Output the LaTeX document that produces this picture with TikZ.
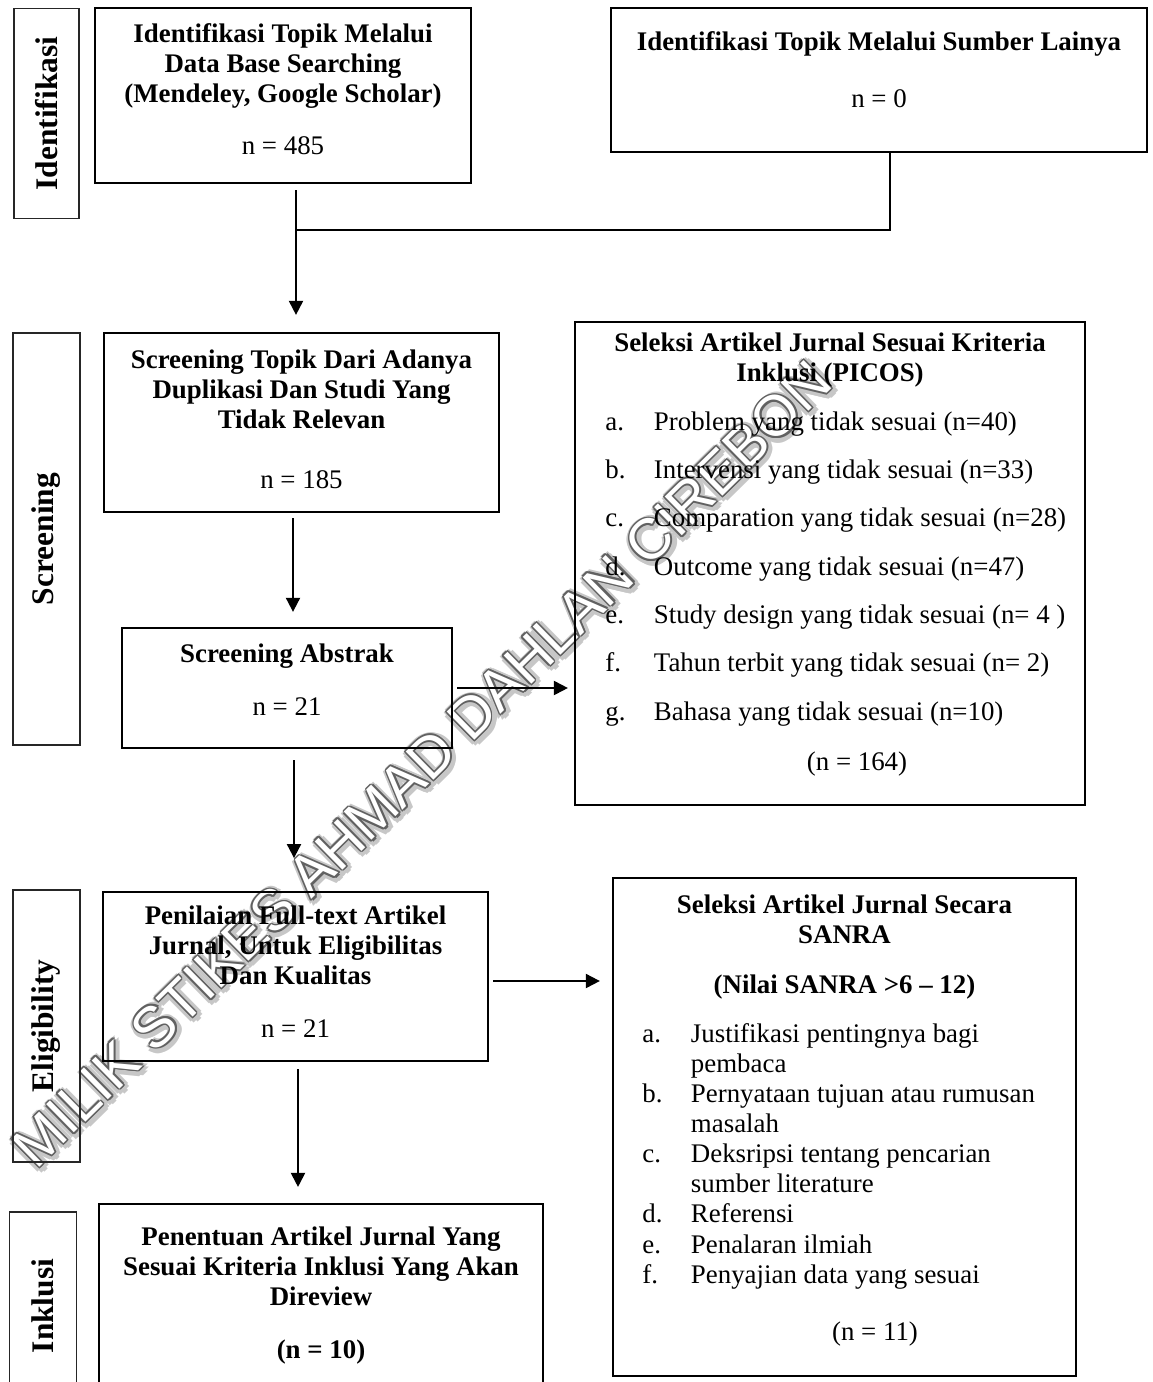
\documentclass[tikz,border=0pt]{standalone}
\usepackage{fontspec}
\setmainfont{Liberation Serif}
\newfontfamily\wmfont{Liberation Sans}
\usetikzlibrary{arrows.meta}
\newcommand{\itm}[1]{\makebox[22.4pt][l]{#1}}
\tikzset{block/.style = {draw, line width=0.9pt, rectangle, inner sep=0pt},
         lbl/.style = {draw=black!85, line width=0.5pt, rectangle, rotate=90, inner sep=0pt, font=\fontsize{14.5pt}{16pt}\selectfont\bfseries},
         txt/.style = {anchor=base, align=center, inner sep=0pt, font=\fontsize{12.4pt}{13.85pt}\selectfont},
         lst/.style = {anchor=base west, align=left, inner sep=0pt, font=\fontsize{12.4pt}{13.85pt}\selectfont},
         wm/.style = {anchor=base, inner sep=0pt, font=\wmfont\fontsize{26.5pt}{30pt}\selectfont},
         link/.style = {line width=0.6pt},
         arr/.style = {line width=0.9pt, -{Triangle[length=6.5pt,width=6.5pt]}}}

\begin{document}
\begin{tikzpicture}[x=0.4615pt, y={(0pt,-0.4615pt)}]
    \clip (0,0) rectangle (1153,1382);
    % watermark
    \foreach \a in {0,45,...,315}
        \node[wm, text=black!22, shift={(\a:2.2pt)}, shift={(0.7pt,-0.7pt)}, rotate=44.5] (wmS\a) at (436,778) {MILIK STIKES AHMAD DAHLAN CIREBON};
    \foreach \a in {0,45,...,315}
        \node[wm, text=black!62, shift={(\a:0.8pt)}, rotate=44.5] (wmO\a) at (436,778) {MILIK STIKES AHMAD DAHLAN CIREBON};
    \node[wm, text=white, rotate=44.5] (wm) at (436,778) {MILIK STIKES AHMAD DAHLAN CIREBON};

    % stage labels
    \node[lbl, minimum width=96.5pt, minimum height=30pt] (lId) at (46.5,113.5) {Identifikasi};
    \node[lbl, minimum width=190.1pt, minimum height=30.9pt] (lScr) at (46.5,539) {Screening};
    \node[lbl, minimum width=125.5pt, minimum height=30.9pt] (lElig) at (46.5,1026) {Eligibility};
    \node[lbl, minimum width=86.8pt, minimum height=30.5pt] (lIncl) at (43,1306) {Inklusi};

    % boxes
    \node[block, minimum width=173.5pt, minimum height=80.8pt] (bDb) at (283,95.5) {};
    \node[block, minimum width=247.4pt, minimum height=66.5pt] (bOther) at (879,80) {};
    \node[block, minimum width=182.3pt, minimum height=82.6pt] (bScr) at (301.5,422.5) {};
    \node[block, minimum width=152.3pt, minimum height=55.4pt] (bAbs) at (287,688) {};
    \node[block, minimum width=235.4pt, minimum height=222.9pt] (bPicos) at (830,563.5) {};
    \node[block, minimum width=177.7pt, minimum height=78pt] (bFull) at (295.5,976.5) {};
    \node[block, minimum width=213.7pt, minimum height=229.8pt] (bSanra) at (844.5,1127) {};
    \node[block, minimum width=204.9pt, minimum height=90.5pt] (bIncl) at (321,1302) {};

    % texts (anchored on their last line)
    \node[txt] (tDb) at (283,155) {\textbf{Identifikasi Topik Melalui}\\\textbf{Data Base Searching}\\\textbf{(Mendeley, Google Scholar)}\\[10.2pt]n = 485};
    \node[txt] (tOther) at (879,108) {\textbf{Identifikasi Topik Melalui Sumber Lainya}\\[12.9pt]n = 0};
    \node[txt] (tScr) at (301.5,488) {\textbf{Screening Topik Dari Adanya}\\\textbf{Duplikasi Dan Studi Yang}\\\textbf{Tidak Relevan}\\[13.4pt]n = 185};
    \node[txt] (tAbs) at (287,715) {\textbf{Screening Abstrak}\\[10.2pt]n = 21};
    \node[txt] (tPicos) at (830,382) {\textbf{Seleksi Artikel Jurnal Sesuai Kriteria}\\\textbf{Inklusi (PICOS)}};
    \node[lst, font=\fontsize{12.4pt}{22.3pt}\selectfont] (lPicos) at (605,720) {\itm{a.}Problem yang tidak sesuai (n=40)\\\itm{b.}Intervensi yang tidak sesuai (n=33)\\\itm{c.}Comparation yang tidak sesuai (n=28)\\\itm{d.}Outcome yang tidak sesuai (n=47)\\\itm{e.}Study design yang tidak sesuai (n= 4 )\\\itm{f.}Tahun terbit yang tidak sesuai (n= 2)\\\itm{g.}Bahasa yang tidak sesuai (n=10)};
    \node[txt] (nPicos) at (857,770) {(n = 164)};
    \node[txt] (tFull) at (295.5,1037) {\textbf{Penilaian Full-text Artikel}\\\textbf{Jurnal, Untuk Eligibilitas}\\\textbf{Dan Kualitas}\\[10.2pt]n = 21};
    \node[txt] (tSanra) at (844.5,993) {\textbf{Seleksi Artikel Jurnal Secara}\\\textbf{SANRA}\\[9.2pt]\textbf{(Nilai SANRA >6 – 12)}};
    \node[lst] (lSanra) at (642,1283) {\itm{a.}Justifikasi pentingnya bagi\\\itm{}pembaca\\\itm{b.}Pernyataan tujuan atau rumusan\\\itm{}masalah\\\itm{c.}Deksripsi tentang pencarian\\\itm{}sumber literature\\\itm{d.}Referensi\\\itm{e.}Penalaran ilmiah\\\itm{f.}Penyajian data yang sesuai};
    \node[txt] (nSanra) at (875,1340) {(n = 11)};
    \node[txt] (tIncl) at (321,1358) {\textbf{Penentuan Artikel Jurnal Yang}\\\textbf{Sesuai Kriteria Inklusi Yang Akan}\\\textbf{Direview}\\[10.6pt]\textbf{(n = 10)}};

    % connectors
    \coordinate (j1) at (296,230);
    \coordinate (j2) at (890,230);
    \coordinate (v2) at (293,570);
    \coordinate (v3) at (294,810);
    \coordinate (v4) at (298,1130);
    \coordinate (h2) at (550,981);
    \draw[link] (bOther.south -| j2) -- (j2) -- (j1);
    \draw[arr, shorten <=2.8pt, shorten >=7.9pt] (bDb.south -| j1) -- (bScr.north -| j1);
    \draw[arr, shorten <=2.5pt, shorten >=7pt] (bScr.south -| v2) -- (bAbs.north -| v2);
    \draw[arr, shorten <=2pt, shorten >=2.8pt] (bAbs.east) -- (bAbs.east -| bPicos.west);
    \draw[arr, shorten <=5.2pt, shorten >=15.2pt] (bAbs.south -| v3) -- (bFull.north -| v3);
    \draw[arr, shorten <=2pt, shorten >=5.6pt] (bFull.east |- h2) -- (bSanra.west |- h2);
    \draw[arr, shorten <=3.3pt, shorten >=7.4pt] (bFull.south -| v4) -- (bIncl.north -| v4);
\end{tikzpicture}
\end{document}
